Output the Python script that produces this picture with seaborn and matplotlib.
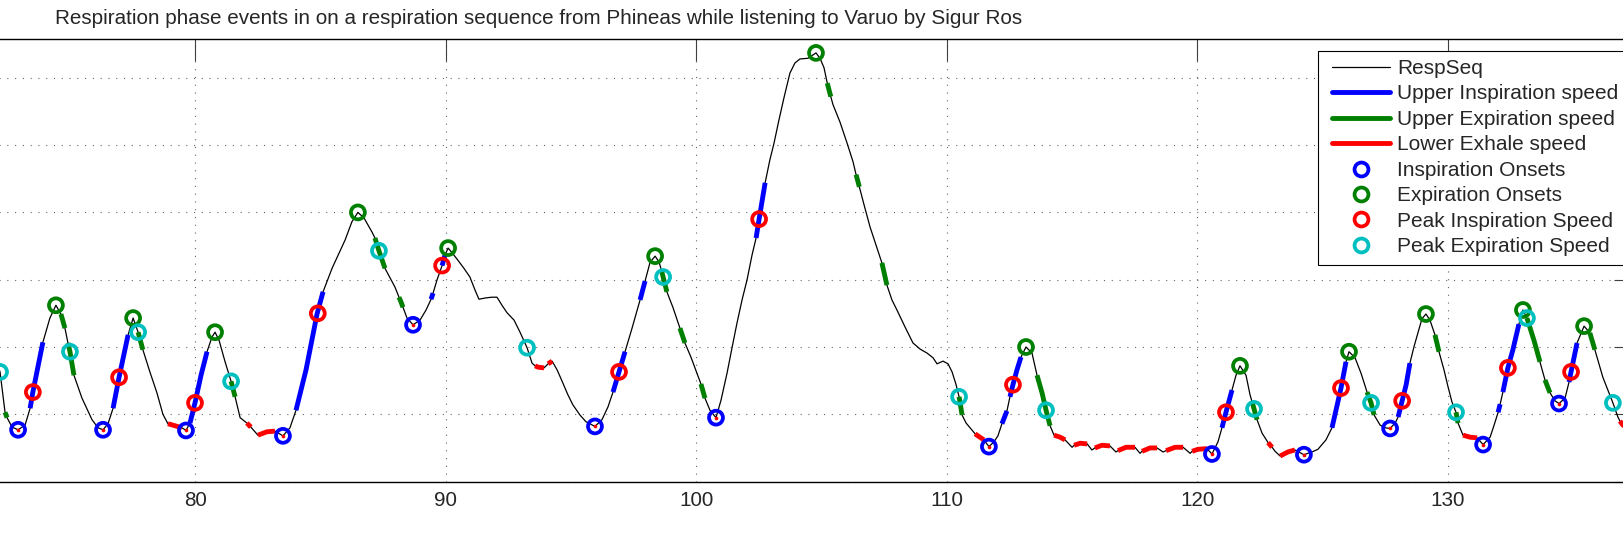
import numpy as np
import pandas as pd
import seaborn as sns
import matplotlib
matplotlib.use("Agg")
import matplotlib.pyplot as plt
from matplotlib.lines import Line2D
from matplotlib.legend_handler import HandlerLine2D

# respiration sequence (time, amplitude)
resp_t = [
    71.90, 72.22, 72.42, 72.50, 72.70, 72.94, 73.22, 73.42, 73.53, 73.93,
    74.21, 74.45, 74.65, 74.81, 74.93, 75.01, 75.17, 75.49, 75.89, 76.13,
    76.33, 76.53, 76.73, 76.97, 77.33, 77.53, 77.73, 77.92, 78.20, 78.48,
    78.72, 78.92, 79.20, 79.48, 79.64, 79.80, 80.00, 80.24, 80.48, 80.68,
    80.80, 80.96, 81.20, 81.44, 81.60, 81.80, 82.07, 82.15, 82.23, 82.51,
    82.87, 83.19, 83.51, 83.79, 84.03, 84.43, 84.87, 85.11, 85.47, 85.99,
    86.26, 86.50, 86.74, 87.06, 87.18, 87.34, 87.58, 87.98, 88.14, 88.22,
    88.30, 88.46, 88.70, 88.98, 89.22, 89.42, 89.50, 89.66, 89.86, 89.98,
    90.10, 90.26, 90.49, 90.73, 90.97, 91.17, 91.33, 91.61, 91.85, 92.05,
    92.25, 92.45, 92.73, 92.97, 93.25, 93.45, 93.57, 93.69, 93.93, 94.09,
    94.25, 94.45, 94.65, 94.88, 95.08, 95.36, 95.60, 95.96, 96.24, 96.48,
    96.68, 96.92, 97.16, 97.44, 97.76, 97.96, 98.16, 98.36, 98.52, 98.62,
    98.68, 98.83, 99.07, 99.35, 99.55, 99.79, 100.03, 100.19, 100.35, 100.55,
    100.79, 100.99, 101.23, 101.43, 101.63, 101.83, 102.03, 102.23, 102.39, 102.51,
    102.75, 102.94, 103.10, 103.30, 103.50, 103.74, 103.94, 104.14, 104.46, 104.66,
    104.78, 104.94, 105.10, 105.23, 105.30, 105.37, 105.46, 105.74, 106.02, 106.26,
    106.38, 106.46, 106.51, 106.70, 106.94, 107.17, 107.41, 107.61, 107.81, 108.01,
    108.33, 108.65, 108.93, 109.21, 109.45, 109.61, 109.85, 110.05, 110.21, 110.37,
    110.49, 110.61, 110.77, 110.93, 111.13, 111.24, 111.48, 111.68, 111.88, 112.04,
    112.20, 112.40, 112.52, 112.64, 112.80, 112.96, 113.16, 113.40, 113.60, 113.80,
    113.96, 114.12, 114.28, 114.52, 114.72, 115.00, 115.08, 115.32, 115.60, 115.79,
    115.91, 116.19, 116.51, 116.75, 116.83, 117.15, 117.51, 117.71, 117.79, 118.11,
    118.39, 118.63, 118.75, 119.11, 119.43, 119.71, 119.79, 120.02, 120.38, 120.58,
    120.82, 120.98, 121.14, 121.38, 121.54, 121.70, 121.94, 122.10, 122.17, 122.26,
    122.38, 122.58, 122.82, 122.98, 123.10, 123.30, 123.61, 123.89, 124.25, 124.57,
    124.81, 125.13, 125.37, 125.53, 125.73, 125.93, 126.05, 126.29, 126.53, 126.77,
    126.93, 127.05, 127.29, 127.49, 127.69, 127.89, 128.01, 128.17, 128.33, 128.48,
    128.64, 128.80, 128.96, 129.12, 129.28, 129.48, 129.64, 129.84, 130.00, 130.16,
    130.32, 130.40, 130.60, 130.88, 131.16, 131.40, 131.68, 131.84, 132.00, 132.08,
    132.19, 132.39, 132.59, 132.83, 132.99, 133.15, 133.43, 133.67, 133.87, 134.07,
    134.27, 134.43, 134.67, 134.83, 134.91, 135.15, 135.43, 135.66, 135.86, 136.18,
    136.58, 136.78, 136.86, 136.98, 137.34]
resp_v = [
    1.96, 1.63, 1.03, 0.95, 0.81, 0.77, 0.84, 1.09, 1.33, 2.07,
    2.43, 2.62, 2.49, 2.28, 2.06, 1.93, 1.58, 1.24, 0.92, 0.80,
    0.77, 0.86, 1.09, 1.55, 2.18, 2.43, 2.22, 1.96, 1.63, 1.32,
    1.00, 0.86, 0.83, 0.80, 0.76, 0.87, 1.17, 1.58, 1.93, 2.15,
    2.22, 2.10, 1.78, 1.49, 1.26, 0.95, 0.87, 0.84, 0.81, 0.69,
    0.74, 0.75, 0.68, 0.80, 1.06, 1.66, 2.49, 2.82, 3.17, 3.59,
    3.86, 4.00, 3.92, 3.71, 3.62, 3.43, 3.17, 2.89, 2.74, 2.67,
    2.59, 2.43, 2.33, 2.40, 2.55, 2.71, 2.80, 3.00, 3.21, 3.37,
    3.47, 3.40, 3.29, 3.17, 3.04, 2.85, 2.71, 2.73, 2.74, 2.74,
    2.62, 2.51, 2.40, 2.22, 1.99, 1.76, 1.72, 1.70, 1.69, 1.75,
    1.79, 1.66, 1.49, 1.29, 1.14, 0.99, 0.89, 0.82, 0.92, 1.11,
    1.33, 1.63, 1.93, 2.28, 2.70, 2.98, 3.26, 3.35, 3.26, 3.13,
    3.04, 2.82, 2.59, 2.28, 2.06, 1.85, 1.61, 1.45, 1.24, 1.06,
    0.95, 1.21, 1.61, 1.99, 2.36, 2.70, 3.00, 3.37, 3.62, 3.90,
    4.44, 4.78, 5.02, 5.37, 5.70, 6.07, 6.22, 6.28, 6.29, 6.34,
    6.37, 6.29, 6.15, 5.92, 5.82, 5.72, 5.60, 5.34, 5.03, 4.75,
    4.56, 4.45, 4.38, 4.11, 3.78, 3.52, 3.25, 2.92, 2.70, 2.55,
    2.30, 2.06, 1.97, 1.91, 1.84, 1.75, 1.79, 1.75, 1.63, 1.44,
    1.26, 0.99, 0.87, 0.80, 0.71, 0.68, 0.62, 0.52, 0.59, 0.68,
    0.86, 1.05, 1.26, 1.44, 1.66, 1.85, 2.00, 1.91, 1.58, 1.32,
    1.06, 0.83, 0.69, 0.66, 0.62, 0.51, 0.54, 0.57, 0.56, 0.47,
    0.50, 0.54, 0.53, 0.44, 0.46, 0.51, 0.51, 0.42, 0.45, 0.50,
    0.50, 0.44, 0.46, 0.51, 0.51, 0.42, 0.45, 0.48, 0.49, 0.41,
    0.59, 0.80, 1.03, 1.36, 1.58, 1.72, 1.58, 1.29, 1.20, 1.08,
    0.92, 0.72, 0.58, 0.51, 0.45, 0.38, 0.44, 0.47, 0.40, 0.44,
    0.48, 0.62, 0.80, 1.06, 1.39, 1.78, 1.93, 1.84, 1.61, 1.33,
    1.17, 0.99, 0.84, 0.80, 0.79, 0.87, 0.96, 1.20, 1.44, 1.76,
    2.00, 2.21, 2.42, 2.49, 2.40, 2.18, 1.93, 1.66, 1.41, 1.18,
    1.03, 0.87, 0.69, 0.66, 0.65, 0.55, 0.66, 0.84, 1.03, 1.15,
    1.33, 1.69, 1.96, 2.34, 2.55, 2.43, 2.10, 1.78, 1.51, 1.32,
    1.20, 1.16, 1.24, 1.48, 1.63, 2.06, 2.31, 2.21, 1.96, 1.55,
    1.17, 0.96, 0.90, 0.84, 0.74]

# time windows of the highlighted speed sections
insp_speed_win = [(73.42, 73.93), (76.73, 77.33), (79.80, 80.48), (84.03, 85.11),
                  (89.42, 89.50), (89.86, 89.98), (96.68, 97.16), (97.76, 97.96),
                  (102.39, 102.75), (112.20, 112.40), (112.52, 112.96),
                  (120.98, 121.38), (125.37, 125.93), (128.01, 128.48),
                  (132.00, 132.08), (132.19, 132.83), (134.83, 135.15)]
exp_speed_win = [(72.42, 72.50), (74.65, 74.81), (74.93, 75.17), (77.73, 77.92),
                 (81.44, 81.60), (87.18, 87.58), (88.14, 88.30), (98.62, 98.83),
                 (99.35, 99.55), (100.19, 100.35), (105.23, 105.37), (106.38, 106.51),
                 (107.41, 107.61), (110.49, 110.61), (113.60, 114.12), (122.17, 122.38),
                 (126.77, 127.05), (129.48, 129.64), (130.32, 130.40), (133.15, 133.67),
                 (133.87, 134.07), (135.66, 135.86)]
exhale_speed_win = [(78.92, 79.48), (82.07, 82.23), (82.51, 83.19), (93.57, 93.93),
                    (94.09, 94.25), (111.13, 111.48), (114.28, 114.72), (115.08, 115.60),
                    (115.91, 116.51), (116.83, 117.51), (117.79, 118.39), (118.75, 119.43),
                    (119.79, 120.38), (122.82, 122.98), (123.30, 123.89), (130.60, 131.16),
                    (136.86, 137.34)]

# event markers
insp_onset_t = [72.94, 76.33, 79.64, 83.51, 88.70, 95.96, 100.79, 111.68, 120.58, 124.25, 127.69, 131.40, 134.43]
insp_onset_v = [0.77, 0.77, 0.76, 0.68, 2.33, 0.82, 0.95, 0.52, 0.41, 0.40, 0.79, 0.55, 1.16]
exp_onset_t = [74.45, 77.53, 80.80, 86.50, 90.10, 98.36, 104.78, 113.16, 121.70, 126.05, 129.12, 132.99, 135.43]
exp_onset_v = [2.62, 2.43, 2.22, 4.00, 3.47, 3.35, 6.37, 2.00, 1.72, 1.93, 2.49, 2.55, 2.31]
peak_insp_t = [73.53, 76.97, 80.00, 84.90, 89.86, 96.92, 102.51, 112.64, 121.14, 125.73, 128.17, 132.39, 134.91]
peak_insp_v = [1.33, 1.55, 1.17, 2.50, 3.21, 1.63, 3.90, 1.44, 1.03, 1.39, 1.20, 1.69, 1.63]
peak_exp_t = [72.22, 75.01, 77.73, 81.44, 87.34, 93.25, 98.68, 110.49, 113.96, 122.26, 126.93, 130.32, 133.15, 136.58]
peak_exp_v = [1.63, 1.93, 2.22, 1.49, 3.43, 1.99, 3.04, 1.26, 1.06, 1.08, 1.17, 1.03, 2.43, 1.17]

x_ticks = [80, 90, 100, 110, 120, 130]
legend_labels = ["RespSeq", "Upper Inspiration speed", "Upper Expiration speed",
                 "Lower Exhale speed", "Inspiration Onsets", "Expiration Onsets",
                 "Peak Inspiration Speed", "Peak Expiration Speed"]
title = ("Respiration phase events in on a respiration sequence from Phineas "
         "while listening to Varuo by Sigur Ros")

BLUE, GREEN, RED, CYAN = "#0000ff", "#008000", "#ff0000", "#00bfbf"
FS = 14.9

resp = pd.DataFrame({"t": resp_t, "v": resp_v})


def windows_frame(windows):
    parts = []
    for k, (t0, t1) in enumerate(windows):
        m = (resp["t"] >= t0 - 1e-9) & (resp["t"] <= t1 + 1e-9)
        parts.append(resp[m].assign(seg=k))
    return pd.concat(parts, ignore_index=True)


sns.set_style("white")
plt.rcParams["font.family"] = ["Liberation Sans", "DejaVu Sans"]

W, H = 1623, 541
fig = plt.figure(figsize=(W / 100, H / 100), dpi=100)
# axes reach past both image edges, as in the cropped original
x_lo, x_hi = 70, 137.5
px_per_x = 25.06
left_px = 195 - (80 - x_lo) * px_per_x
right_px = 195 + (x_hi - 80) * px_per_x
ax = fig.add_axes([left_px / W, 1 - 481.6 / H, (right_px - left_px) / W, (481.6 - 38.5) / H])

sns.lineplot(data=resp, x="t", y="v", sort=False, estimator=None, color="k",
             lw=0.9, ax=ax, zorder=2)
for wins, col in [(insp_speed_win, BLUE), (exp_speed_win, GREEN), (exhale_speed_win, RED)]:
    sns.lineplot(data=windows_frame(wins), x="t", y="v", units="seg", estimator=None,
                 sort=False, color=col, lw=3.5, solid_capstyle="butt", ax=ax, zorder=3)

# small red mark at each inspiration onset
sns.scatterplot(x=insp_onset_t, y=insp_onset_v, color=RED, s=7, linewidth=0,
                ax=ax, zorder=4)

ring = dict(marker="o", s=100, linewidth=2.7, facecolors="none", zorder=5, ax=ax)
for tt, vv, col in [(insp_onset_t, insp_onset_v, BLUE), (exp_onset_t, exp_onset_v, GREEN),
                    (peak_insp_t, peak_insp_v, RED), (peak_exp_t, peak_exp_v, CYAN)]:
    sns.scatterplot(x=tt, y=vv, edgecolor=col, color=col, **ring)

ax.set_xlim(x_lo, x_hi)
ax.set_ylim(0, 6.584)
ax.set_xlabel("")
ax.set_ylabel("")
ax.set_xticks(x_ticks)
ax.set_yticks(range(0, 7))
ax.set_yticklabels([])
ax.tick_params(direction="in", length=16, width=0.8, color="0.25", top=True, right=True,
               labelsize=FS, pad=6.5)
ax.grid(True, linestyle=(0, (1, 6)), lw=0.8, color="0.4")
for sp in ax.spines.values():
    sp.set_visible(True)
    sp.set_color("black")
    sp.set_linewidth(1.0)

handles = [Line2D([], [], color="k", lw=0.9),
           Line2D([], [], color=BLUE, lw=3.5),
           Line2D([], [], color=GREEN, lw=3.5),
           Line2D([], [], color=RED, lw=3.5)]
for col in [BLUE, GREEN, RED, CYAN]:
    handles.append(Line2D([], [], ls="none", marker="o", ms=10, mfc="none", mec=col, mew=2.7))
leg = ax.legend(handles, legend_labels, loc="upper left",
                bbox_to_anchor=(1318 / W, 1 - 50.7 / H), bbox_transform=fig.transFigure,
                borderaxespad=0, fontsize=15, frameon=True, fancybox=False,
                edgecolor="black", framealpha=1, borderpad=0.4, labelspacing=0.31,
                handlelength=3.05, handletextpad=0.36,
                handler_map={Line2D: HandlerLine2D(xpad=0.25)})
leg.get_frame().set_linewidth(0.8)

fig.text(55 / W, 1 - 24 / H, title, fontsize=FS, ha="left", va="baseline")

fig.savefig("out.png", dpi=100, facecolor="white")
